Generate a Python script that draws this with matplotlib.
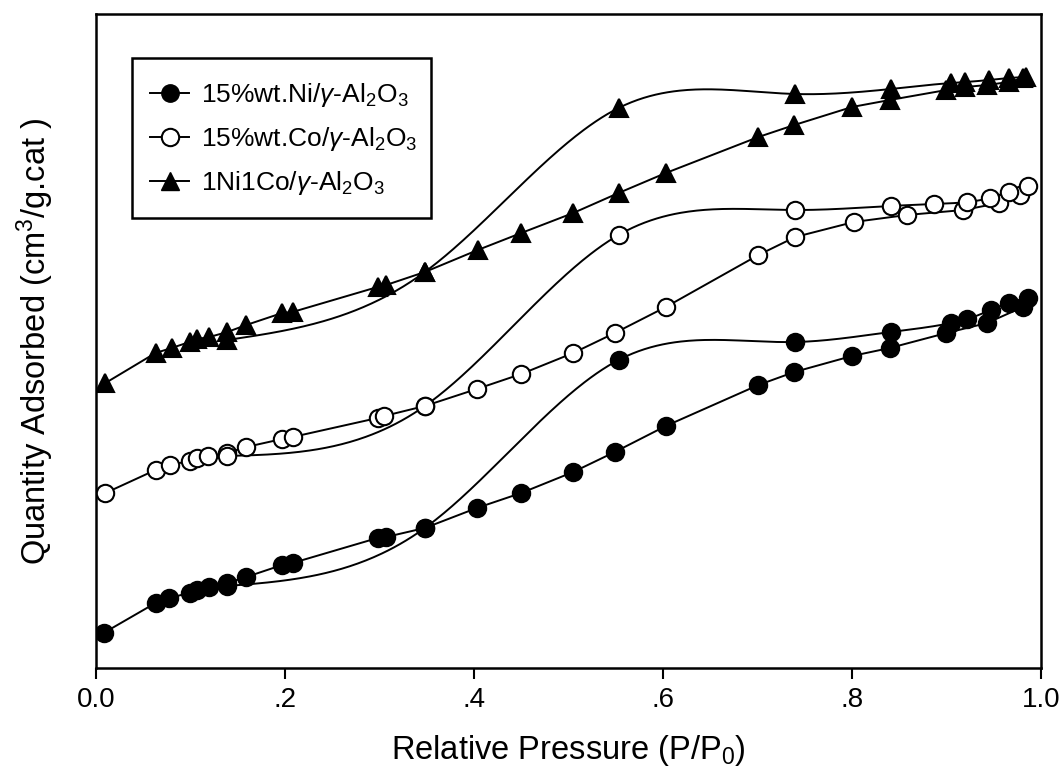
import numpy as np
import matplotlib
matplotlib.use("Agg")
import matplotlib.pyplot as plt
from matplotlib.patches import Rectangle
from matplotlib.lines import Line2D

plt.rcParams['font.family'] = ['Liberation Sans', 'DejaVu Sans']
plt.rcParams['mathtext.fontset'] = 'custom'
plt.rcParams['mathtext.rm'] = 'Liberation Sans'
plt.rcParams['mathtext.it'] = 'Liberation Sans:italic'

# N2 isotherms, arbitrary quantity units (no y scale shown)
# --- 15%wt.Ni ---
ni_ads_p = [0.008, 0.063, 0.077, 0.099, 0.107, 0.120, 0.139, 0.159, 0.197, 0.208,
            0.298, 0.307, 0.348, 0.403, 0.450, 0.505, 0.549, 0.603, 0.701, 0.739,
            0.800, 0.840, 0.900, 0.943, 0.981]
ni_ads_q = [35, 65, 70, 75, 78, 81, 85, 91, 103, 105,
            130, 131, 140, 160, 175, 196, 216, 242, 283, 296,
            312, 320, 335, 345, 361]
ni_des_p = [0.986, 0.966, 0.947, 0.922, 0.905, 0.841, 0.740, 0.553, 0.348, 0.139]
ni_des_q = [370, 365, 358, 349, 345, 336, 326, 308, 140, 82]

# --- 15%wt.Co ---
co_ads_p = [0.010, 0.063, 0.078, 0.099, 0.107, 0.119, 0.139, 0.159, 0.197, 0.208,
            0.298, 0.305, 0.348, 0.403, 0.450, 0.505, 0.549, 0.603, 0.701, 0.740,
            0.802, 0.858, 0.918, 0.956, 0.978]
co_ads_q = [175, 198, 203, 207, 210, 212, 215, 221, 229, 231,
            250, 252, 262, 279, 294, 315, 335, 361, 413, 431,
            446, 453, 458, 465, 473]
co_des_p = [0.986, 0.966, 0.946, 0.922, 0.887, 0.841, 0.740, 0.553, 0.348, 0.139]
co_des_q = [482, 476, 470, 466, 464, 462, 458, 433, 262, 212]

# --- 1Ni1Co ---
nico_ads_p = [0.010, 0.063, 0.080, 0.099, 0.107, 0.120, 0.139, 0.159, 0.197, 0.208,
              0.298, 0.307, 0.348, 0.404, 0.450, 0.505, 0.553, 0.603, 0.701, 0.739,
              0.800, 0.840, 0.900, 0.920, 0.943, 0.966, 0.981]
nico_ads_q = [285, 315, 320, 326, 329, 331, 336, 343, 355, 356,
              381, 383, 396, 418, 435, 455, 475, 495, 531, 543,
              561, 568, 578, 581, 583, 586, 590]
nico_des_p = [0.984, 0.966, 0.945, 0.920, 0.905, 0.841, 0.740, 0.553, 0.348, 0.139]
nico_des_q = [591, 590, 588, 586, 585, 579, 574, 560, 396, 328]

labels = ['15%wt.Ni/$\\gamma$-Al$_2$O$_3$',
          '15%wt.Co/$\\gamma$-Al$_2$O$_3$',
          '1Ni1Co/$\\gamma$-Al$_2$O$_3$']


def natural_spline(x, y, n=400):
    # natural cubic spline through the points, sorted by x
    x = np.asarray(x, float)
    y = np.asarray(y, float)
    order = np.argsort(x)
    x, y = x[order], y[order]
    m = len(x)
    h = np.diff(x)
    A = np.zeros((m, m))
    b = np.zeros(m)
    A[0, 0] = A[-1, -1] = 1
    for i in range(1, m - 1):
        A[i, i - 1] = h[i - 1]
        A[i, i] = 2 * (h[i - 1] + h[i])
        A[i, i + 1] = h[i]
        b[i] = 6 * ((y[i + 1] - y[i]) / h[i] - (y[i] - y[i - 1]) / h[i - 1])
    M = np.linalg.solve(A, b)
    xs = np.linspace(x[0], x[-1], n)
    k = np.clip(np.searchsorted(x, xs) - 1, 0, m - 2)
    t0 = x[k + 1] - xs
    t1 = xs - x[k]
    hk = h[k]
    ys = (M[k] * t0 ** 3 + M[k + 1] * t1 ** 3) / (6 * hk) \
        + (y[k] / hk - M[k] * hk / 6) * t0 + (y[k + 1] / hk - M[k + 1] * hk / 6) * t1
    return xs, ys


fig = plt.figure(figsize=(10.62, 7.78), dpi=100)
ax = fig.add_axes([0.0904, 0.1414, 0.8898, 0.8406])

series = [
    (ni_ads_p, ni_ads_q, ni_des_p, ni_des_q, 'o', 'black', 12.5),
    (co_ads_p, co_ads_q, co_des_p, co_des_q, 'o', 'white', 12.5),
    (nico_ads_p, nico_ads_q, nico_des_p, nico_des_q, '^', 'black', 12.5),
]
for ap, aq, dp, dq, mk, fc, ms in series:
    ax.plot(ap, aq, color='black', lw=1.4, zorder=2)
    sx, sy = natural_spline(dp, dq)
    ax.plot(sx, sy, color='black', lw=1.4, zorder=2)
    ax.plot(ap, aq, ls='none', marker=mk, ms=ms, mfc=fc, mec='black', mew=1.5, zorder=3)
    ax.plot(dp, dq, ls='none', marker=mk, ms=ms, mfc=fc, mec='black', mew=1.5, zorder=3)

ax.set_xlim(0, 1.0)
ax.set_ylim(0, 654)
ax.set_xticks([0, 0.2, 0.4, 0.6, 0.8, 1.0])
ax.set_xticklabels(['0.0', '.2', '.4', '.6', '.8', '1.0'], fontsize=20)
ax.set_yticks([])
ax.tick_params(axis='x', direction='out', length=8, width=1.5, pad=6)
for s in ax.spines.values():
    s.set_linewidth(1.8)

ax.set_xlabel('Relative Pressure (P/P$_0$)', fontsize=23.5, labelpad=14)
ax.set_ylabel('Quantity Adsorbed (cm$^3$/g.cat )', fontsize=23.5, labelpad=29)

# legend box
ax.add_patch(Rectangle((0.038, 0.688), 0.316, 0.245, transform=ax.transAxes,
                       fill=False, lw=1.8, ec='black', zorder=5))
handles = [Line2D([], [], color='black', lw=1.4, marker='o', ms=12.5, mfc='black', mec='black'),
           Line2D([], [], color='black', lw=1.4, marker='o', ms=12.5, mfc='white', mec='black', mew=1.5),
           Line2D([], [], color='black', lw=1.4, marker='^', ms=12.5, mfc='black', mec='black')]
ax.legend(handles, labels, loc='upper left', bbox_to_anchor=(0.057, 0.897),
          frameon=False, fontsize=19, handlelength=1.5, handletextpad=0.45,
          labelspacing=0.6, borderaxespad=0, borderpad=0)

fig.savefig('out.png', dpi=100)
